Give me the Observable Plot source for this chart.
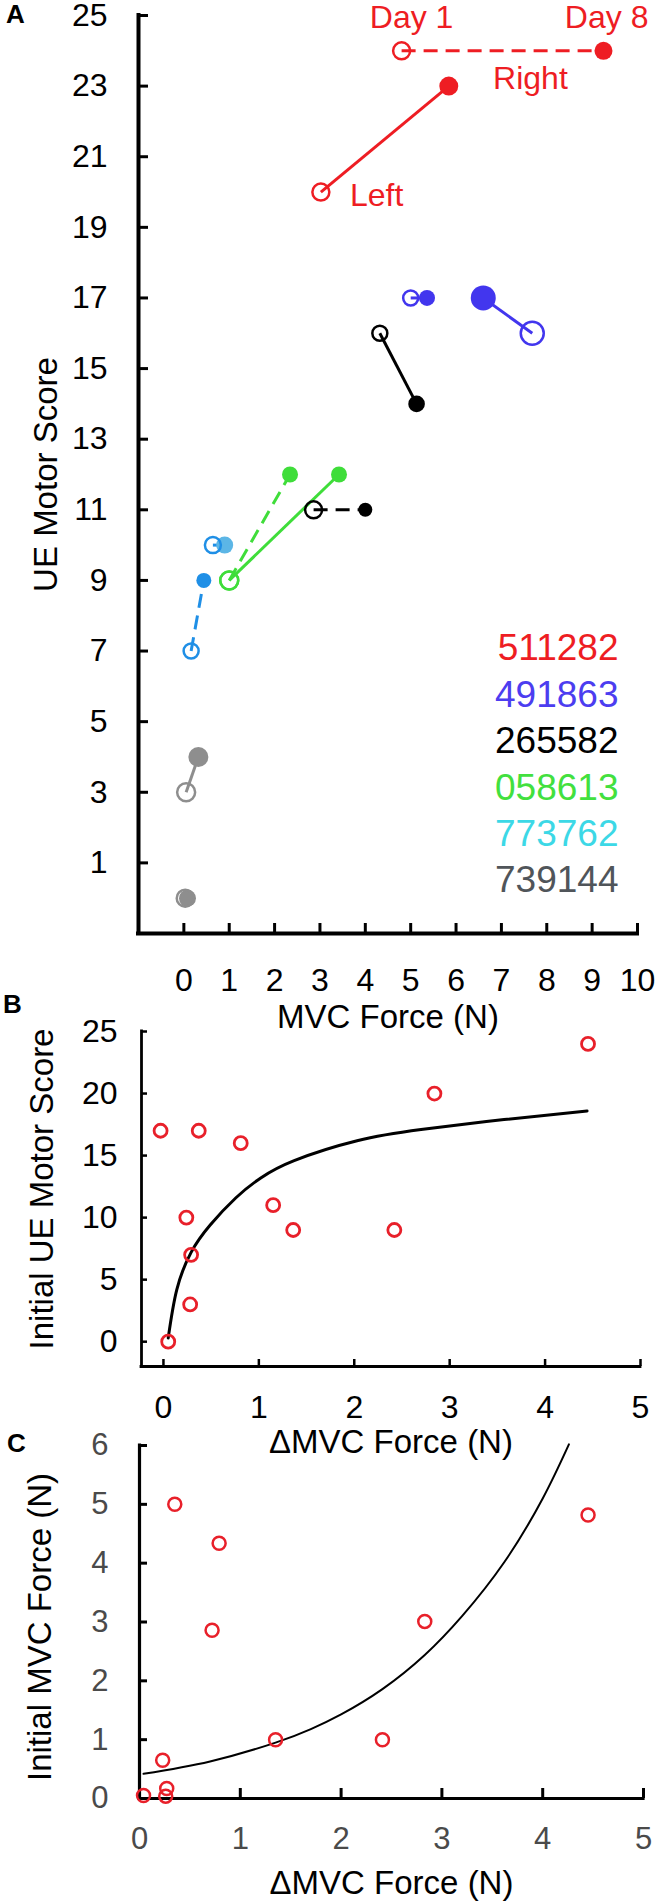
<!DOCTYPE html>
<html><head><meta charset="utf-8">
<script src="https://cdn.jsdelivr.net/npm/d3@7"></script>
<script src="https://cdn.jsdelivr.net/npm/@observablehq/plot@0.6"></script>
<style>
body{margin:0;background:#fff}
#wrap{position:relative;width:660px;height:1903px;overflow:hidden;background:#fff}
#wrap > svg{position:absolute;left:0;margin:0;overflow:visible;background:transparent}
</style></head><body><div id="wrap"></div>
<script>
const FONT = "'Liberation Sans', Arial, Helvetica, sans-serif";

// ---------- Panel A data ----------
const subjects = ["511282", "491863", "265582", "058613", "773762", "739144"];
const pairSubject = ["511282","511282","491863","491863","265582","265582","058613","058613","773762","773762","739144","739144"];
const pairLimb    = ["R","L","R","L","L","R","R","L","R","R","L","L"];
const mvcDay1 = [4.80, 3.02, 5.00, 7.68, 4.32, 2.86, 1.00, 1.00, 0.16, 0.64, 0.05, 0.03];
const mvcDay8 = [9.25, 5.84, 5.36, 6.60, 5.13, 4.00, 2.34, 3.42, 0.44, 0.90, 0.32, 0.08];
const ueDay1  = [24, 20, 17, 16, 16, 11, 9, 9, 7, 10, 3, 0];
const ueDay8  = [24, 23, 17, 17, 14, 11, 12, 12, 9, 10, 4, 0];
const xTicksA = [0, 1, 2, 3, 4, 5, 6, 7, 8, 9, 10];
const yTicksA = [1, 3, 5, 7, 9, 11, 13, 15, 17, 19, 21, 23, 25];
const annotText = ["Day 1", "Day 8", "Right", "Left"];
const annotX = [5.02, 9.32, 7.64, 4.25];
const annotY = [24.95, 24.95, 23.2, 19.9];

// ---------- Panel B data ----------
const deltaMVC_B = [-0.03, 0.37, 0.81, 0.24, 0.29, 0.28, 0.05, 1.15, 1.36, 2.42, 2.84, 4.45];
const initUE_B   = [17, 17, 16, 10, 7, 3, 0, 11, 9, 9, 20, 24];
const fitB_x = [0.05, 0.14, 0.29, 0.49, 0.76, 1.02, 1.37, 2.03, 2.70, 3.57, 4.44];
const fitB_y = [0.3, 4.2, 7.2, 9.4, 11.6, 13.2, 14.6, 16.2, 17.1, 17.9, 18.6];
const xTicksB = [0, 1, 2, 3, 4, 5];
const yTicksB = [0, 5, 10, 15, 20, 25];

// ---------- Panel C data ----------
const deltaMVC_C = [0.35, 0.79, 0.72, 4.45, 2.83, 1.35, 2.41, 0.23, 0.27, 0.26, 0.04];
const initMVC_C  = [5.00, 4.34, 2.86, 4.82, 3.01, 1.00, 1.00, 0.65, 0.17, 0.04, 0.05];
const fitC_x = [0.04, 0.70, 1.35, 1.70, 2.00, 2.41, 2.83, 3.20, 3.62, 4.00, 4.26];
const fitC_y = [0.42, 0.63, 0.95, 1.18, 1.43, 1.86, 2.44, 3.10, 4.02, 5.10, 6.02];
const xTicksC = [0, 1, 2, 3, 4, 5];
const yTicksC = [0, 1, 2, 3, 4, 5, 6];

// ---------- styles ----------
const subjectColor = {"511282":"#ee1d23","491863":"#4236ee","265582":"#000000","058613":"#3fdd3a","773762":"#1f8fe6","739144":"#8e8e8e"};
const legendColor  = {"511282":"#ee1d23","491863":"#4c3df0","265582":"#000000","058613":"#42e03e","773762":"#3cd8e6","739144":"#50555a"};
const pairStyle = [
  {r1:8.5, r8:9}, {r1:8.5, r8:9.5}, {r1:7.5, r8:8}, {r1:11.5, r8:12.5},
  {r1:7.5, r8:8.3}, {r1:8.5, r8:7}, {r1:9, r8:8}, {r1:9, r8:8},
  {r1:7.5, r8:7.5}, {r1:8, r8:8.5, fill8:"#5cb6e6"}, {r1:9, r8:10}, {r1:8.5, r8:8.5}
];
const RED = "#e8202a";
const mid = {textAnchor: "middle", lineAnchor: "middle"};

const pairs = pairSubject.map((s, i) => ({i, s, limb: pairLimb[i], x1: mvcDay1[i], x8: mvcDay8[i], y1: ueDay1[i], y8: ueDay8[i]}));
const wrap = document.getElementById("wrap");
function place(svg, top) { svg.style.top = top + "px"; wrap.appendChild(svg); }

// ---------- Plot A ----------
const A = Plot.plot({
  width: 660, height: 1040,
  marginTop: 15, marginBottom: 107, marginLeft: 138, marginRight: 23,
  x: {domain: [-1, 10]},
  y: {domain: [-1, 25]},
  r: {type: "identity"},
  style: {fontFamily: FONT, fontSize: "32px", background: "transparent", overflow: "visible", color: "black"},
  marks: [
    Plot.axisX(xTicksA, {tickSize: -10, tickPadding: 45, strokeWidth: 3, label: null, fontSize: 32, tickFormat: d => String(d)}),
    Plot.axisY(yTicksA, {tickSize: -10, tickPadding: 41, strokeWidth: 3, label: null, fontSize: 32, tickFormat: d => String(d)}),
    Plot.ruleY([-1], {strokeWidth: 4, strokeLinecap: "square"}),
    Plot.ruleX([-1], {strokeWidth: 4, strokeLinecap: "square"}),
    Plot.link(pairs.filter(d => d.limb === "L"), {x1: "x1", y1: "y1", x2: "x8", y2: "y8", stroke: d => subjectColor[d.s], strokeWidth: 3}),
    Plot.link(pairs.filter(d => d.limb === "R"), {x1: "x1", y1: "y1", x2: "x8", y2: "y8", stroke: d => subjectColor[d.s], strokeWidth: 3, strokeDasharray: "14,8"}),
    Plot.dot(pairs, {x: "x8", y: "y8", r: d => pairStyle[d.i].r8, fill: d => pairStyle[d.i].fill8 || subjectColor[d.s], stroke: "none"}),
    Plot.dot(pairs, {x: "x1", y: "y1", r: d => pairStyle[d.i].r1, stroke: d => subjectColor[d.s], fill: "none", strokeWidth: 2.5}),
    Plot.text(annotText, {x: (d, i) => annotX[i], y: (d, i) => annotY[i], text: d => d, fill: subjectColor["511282"], fontSize: 32, ...mid}),
    ...subjects.map((s, i) => Plot.text([s], {frameAnchor: "bottom-right", textAnchor: "end", lineAnchor: "middle", dx: -19, dy: -53 - (subjects.length - 1 - i) * 46.4, fill: legendColor[s], fontSize: 37})),
    Plot.text(["MVC Force (N)"], {frameAnchor: "bottom", dy: 84, fontSize: 33, ...mid}),
    Plot.text(["UE Motor Score"], {frameAnchor: "left", rotate: -90, dx: -92, fontSize: 33, ...mid}),
    Plot.text(["A"], {frameAnchor: "top-left", dx: -123, dy: -1, fontSize: 26, fontWeight: "bold", ...mid})
  ]
});
place(A, 0);

// ---------- Plot B ----------
const bPts = deltaMVC_B.map((x, i) => ({x, y: initUE_B[i]}));
const bFit = fitB_x.map((x, i) => ({x, y: fitB_y[i]}));
const B = Plot.plot({
  width: 660, height: 460,
  marginTop: 31, marginBottom: 94, marginLeft: 141, marginRight: 20,
  x: {domain: [-0.23, 5]},
  y: {domain: [-2, 25]},
  style: {fontFamily: FONT, fontSize: "32px", background: "transparent", overflow: "visible", color: "black"},
  marks: [
    Plot.axisX(xTicksB, {tickSize: -7, tickPadding: 36, strokeWidth: 2.5, label: null, fontSize: 32, tickFormat: d => String(d)}),
    Plot.axisY(yTicksB, {tickSize: -6, tickPadding: 30, strokeWidth: 2.5, label: null, fontSize: 32, tickFormat: d => String(d)}),
    Plot.ruleY([-2], {strokeWidth: 2.8, strokeLinecap: "square"}),
    Plot.ruleX([-0.23], {strokeWidth: 2.8, strokeLinecap: "square"}),
    Plot.line(bFit, {x: "x", y: "y", curve: "natural", strokeWidth: 3}),
    Plot.dot(bPts, {x: "x", y: "y", r: 6.5, stroke: RED, fill: "none", strokeWidth: 2.8}),
    Plot.text(["ΔMVC Force (N)"], {frameAnchor: "bottom", dy: 76, fontSize: 33, ...mid}),
    Plot.text(["Initial UE Motor Score"], {frameAnchor: "left", rotate: -90, dx: -99, dy: -10, fontSize: 33, ...mid}),
    Plot.text(["B"], {frameAnchor: "top-left", dx: -129, dy: -27, fontSize: 26, fontWeight: "bold", ...mid})
  ]
});
place(B, 1000);

// ---------- Plot C ----------
const cPts = deltaMVC_C.map((x, i) => ({x, y: initMVC_C[i]}));
const cFit = fitC_x.map((x, i) => ({x, y: fitC_y[i]}));
const C = Plot.plot({
  width: 660, height: 483,
  marginTop: 25, marginBottom: 105, marginLeft: 139, marginRight: 17,
  x: {domain: [0, 5]},
  y: {domain: [0, 6]},
  style: {fontFamily: FONT, fontSize: "31px", background: "transparent", overflow: "visible", color: "black"},
  marks: [
    Plot.axisX(xTicksC, {tickSize: -10, tickPadding: 38, strokeWidth: 3, stroke: "black", fill: "#4a4a4a", label: null, fontSize: 31, tickFormat: d => String(d)}),
    Plot.axisY(yTicksC, {tickSize: -8, tickPadding: 39, strokeWidth: 3, stroke: "black", fill: "#4a4a4a", label: null, fontSize: 31, tickFormat: d => String(d)}),
    Plot.ruleY([0], {strokeWidth: 3.2, strokeLinecap: "square"}),
    Plot.ruleX([0], {strokeWidth: 3.2, strokeLinecap: "square"}),
    Plot.line(cFit, {x: "x", y: "y", curve: "natural", strokeWidth: 2}),
    Plot.dot(cPts, {x: "x", y: "y", r: 6.5, stroke: RED, fill: "none", strokeWidth: 2.5}),
    Plot.text(["ΔMVC Force (N)"], {frameAnchor: "bottom", dy: 85, fontSize: 33, ...mid}),
    Plot.text(["Initial MVC Force (N)"], {frameAnchor: "left", rotate: -90, dx: -99, dy: 5, fontSize: 33, ...mid}),
    Plot.text(["C"], {frameAnchor: "top-left", dx: -123, dy: -2, fontSize: 26, fontWeight: "bold", ...mid})
  ]
});
place(C, 1420);
</script></body></html>
